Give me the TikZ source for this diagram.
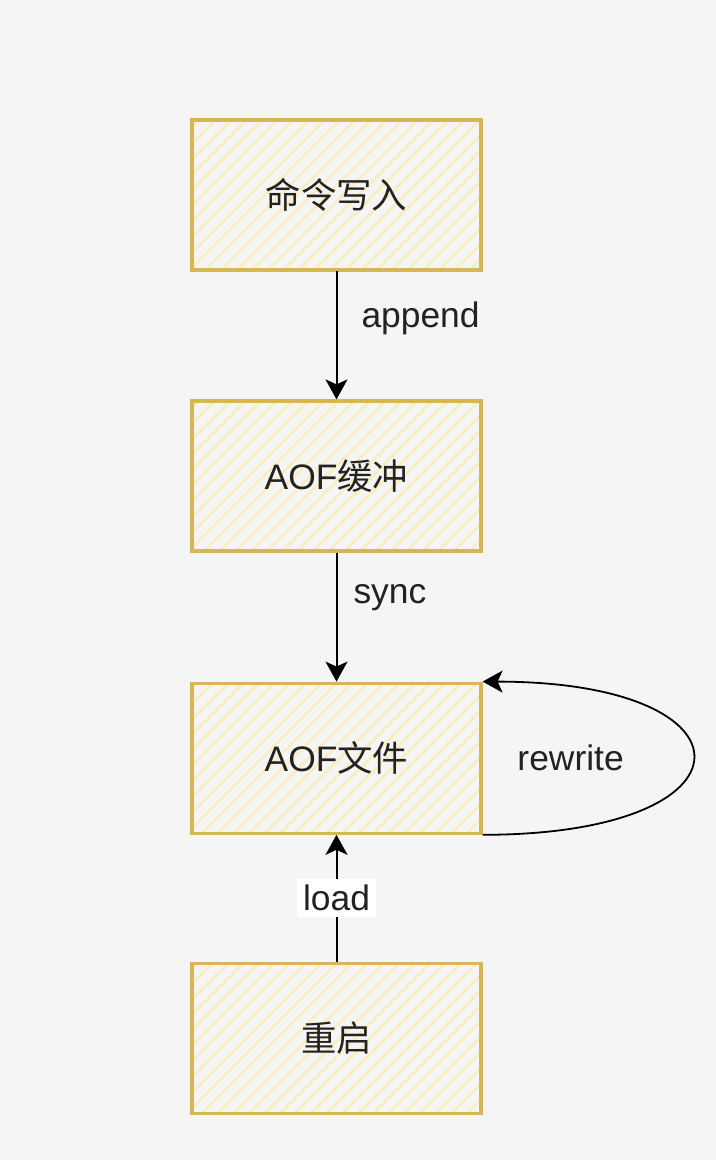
\documentclass[tikz,border=0pt]{standalone}
\usepackage{fontspec}
\setmainfont{Liberation Sans}
\newfontfamily\cjk{Noto Sans CJK SC}
\usepackage{tikz}
\usetikzlibrary{arrows.meta,positioning,patterns.meta}
\definecolor{PageGray}{HTML}{F5F5F5}
\definecolor{SketchGold}{HTML}{D6B656}
\definecolor{HatchYellow}{HTML}{FBEDC0}
\definecolor{InkDark}{HTML}{222222}
\tikzset{
  stagebox/.style={draw=SketchGold,line width=1.6pt,
    pattern={Lines[angle=45,distance=5.5pt,line width=1.4pt]},pattern color=HatchYellow,
    minimum width=144.5pt,minimum height=75pt,inner sep=0pt,
    font=\fontsize{17.7}{21}\selectfont,text=InkDark},
  flow/.style={-{Stealth[length=10pt,width=11pt,inset=2.5pt]},line width=1pt,draw=black},
  flowlabel/.style={font=\fontsize{17.7}{21}\selectfont,text=InkDark,inner sep=0pt}
}

\begin{document}
\begin{tikzpicture}[x=0.5pt,y=-0.5pt]
  \fill[PageGray] (0,0) rectangle (716,1160);
  \useasboundingbox (0,0) rectangle (716,1160);
  \node[stagebox] (cmd) at (336.5,195) {\cjk 命令写入};
  \node[stagebox,below=64pt of cmd] (buf) {AOF{\cjk 缓冲}};
  \node[stagebox,below=64.5pt of buf] (file) {AOF{\cjk 文件}};
  \node[stagebox,below=63.5pt of file] (boot) {\cjk 重启};
  \draw[flow] (cmd) -- (buf) node[flowlabel,pos=0.37,right=12pt]{append};
  \draw[flow] (buf) -- (file) node[flowlabel,pos=0.35,right=8pt]{sync};
  \draw[flow] (boot) -- (file) node[flowlabel,midway,fill=white,inner sep=3pt]{load};
  \draw[flow,line width=0.9pt] (file.south east) .. controls +(280,0) and +(280,0) .. (file.north east)
    node[flowlabel,midway,left=34pt]{rewrite};
\end{tikzpicture}
\end{document}
